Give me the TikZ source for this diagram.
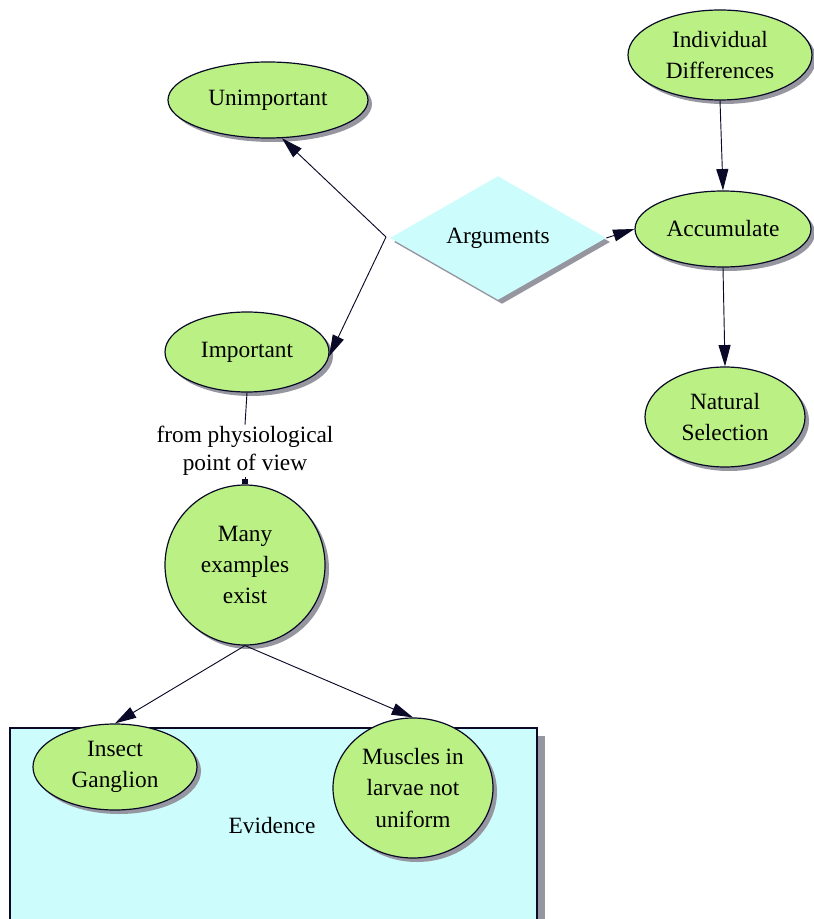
\documentclass[tikz,border=0pt]{standalone}
\usepackage{fontspec}
\setmainfont{Liberation Serif}
\usetikzlibrary{shapes.geometric,shadows,arrows.meta}
\definecolor{nodegreen}{RGB}{186,240,132}
\definecolor{lightcyan}{RGB}{204,252,252}
\definecolor{shadowc}{RGB}{150,150,160}
\definecolor{edgec}{RGB}{10,10,40}
\tikzset{
  bubble/.style={ellipse, draw=edgec, line width=0.9pt, fill=nodegreen, inner sep=0pt, align=center,
    font=\fontsize{17.5}{23.5}\selectfont,
    general shadow={fill=shadowc, shadow xshift=3pt, shadow yshift=-3pt}},
  conn/.style={draw=edgec, line width=0.7pt, -{Triangle[length=16pt,width=9pt]}},
  plainconn/.style={draw=edgec, line width=0.7pt},
  lbl/.style={align=center, font=\fontsize{17.5}{21}\selectfont, inner sep=1pt}
}
\begin{document}
\begin{tikzpicture}[x=0.75pt,y=-0.75pt]
\useasboundingbox (0,0) rectangle (813,919);
% Evidence box
\fill[shadowc] (16,736) rectangle (545,930);
\draw[fill=lightcyan, draw=edgec, line width=0.8pt] (10,728) rectangle (537,925);
\node[lbl] (evid) at (272,826) {Evidence};

% nodes
\node[bubble, minimum width=138pt, minimum height=67.5pt] (ind) at (720,55) {Individual\\Differences};
\node[bubble, minimum width=132pt, minimum height=57pt] (acc) at (723,229) {Accumulate};
\node[bubble, minimum width=120pt, minimum height=75pt] (nat) at (725,417) {Natural\\Selection};
\node[diamond, fill=lightcyan, draw=none, inner sep=0pt, minimum width=162pt, minimum height=87pt,
  font=\fontsize{17.5}{23}\selectfont,
  general shadow={fill=shadowc, shadow xshift=3pt, shadow yshift=-3pt}] (arg) at (498,238) {Arguments};
\node[bubble, minimum width=150pt, minimum height=57pt] (unimp) at (268,100) {Unimportant};
\node[bubble, minimum width=123pt, minimum height=60pt] (imp) at (247,352) {Important};
\node[lbl] (phys) at (245,451) {from physiological\\point of view};
\node[bubble, minimum width=120pt, minimum height=120pt] (many) at (245,565) {Many\\examples\\exist};
\node[bubble, minimum width=123pt, minimum height=64.5pt] (insect) at (115,767) {Insect\\Ganglion};
\node[bubble, minimum width=120pt, minimum height=105pt] (musc) at (413,788) {Muscles in\\larvae not\\uniform};

\coordinate (split) at (386,237);

% connectors
\draw[conn] (ind.south) -- (acc.north);
\draw[conn] (acc.south) -- (nat.north);
\draw[conn] (arg.east) -- (acc.west);
\draw[conn] (split) -- (unimp.-70);
\draw[conn] (split) -- (imp.-3);
\draw[plainconn] (imp.south) -- (phys.north);
\draw[draw=edgec, line width=0.7pt, -{Square[length=4pt,width=4pt]}] (phys.south) -- (many.north);
\draw[conn] (many.south) -- (insect.north);
\draw[conn] (many.south) -- (musc.north);
\end{tikzpicture}
\end{document}
